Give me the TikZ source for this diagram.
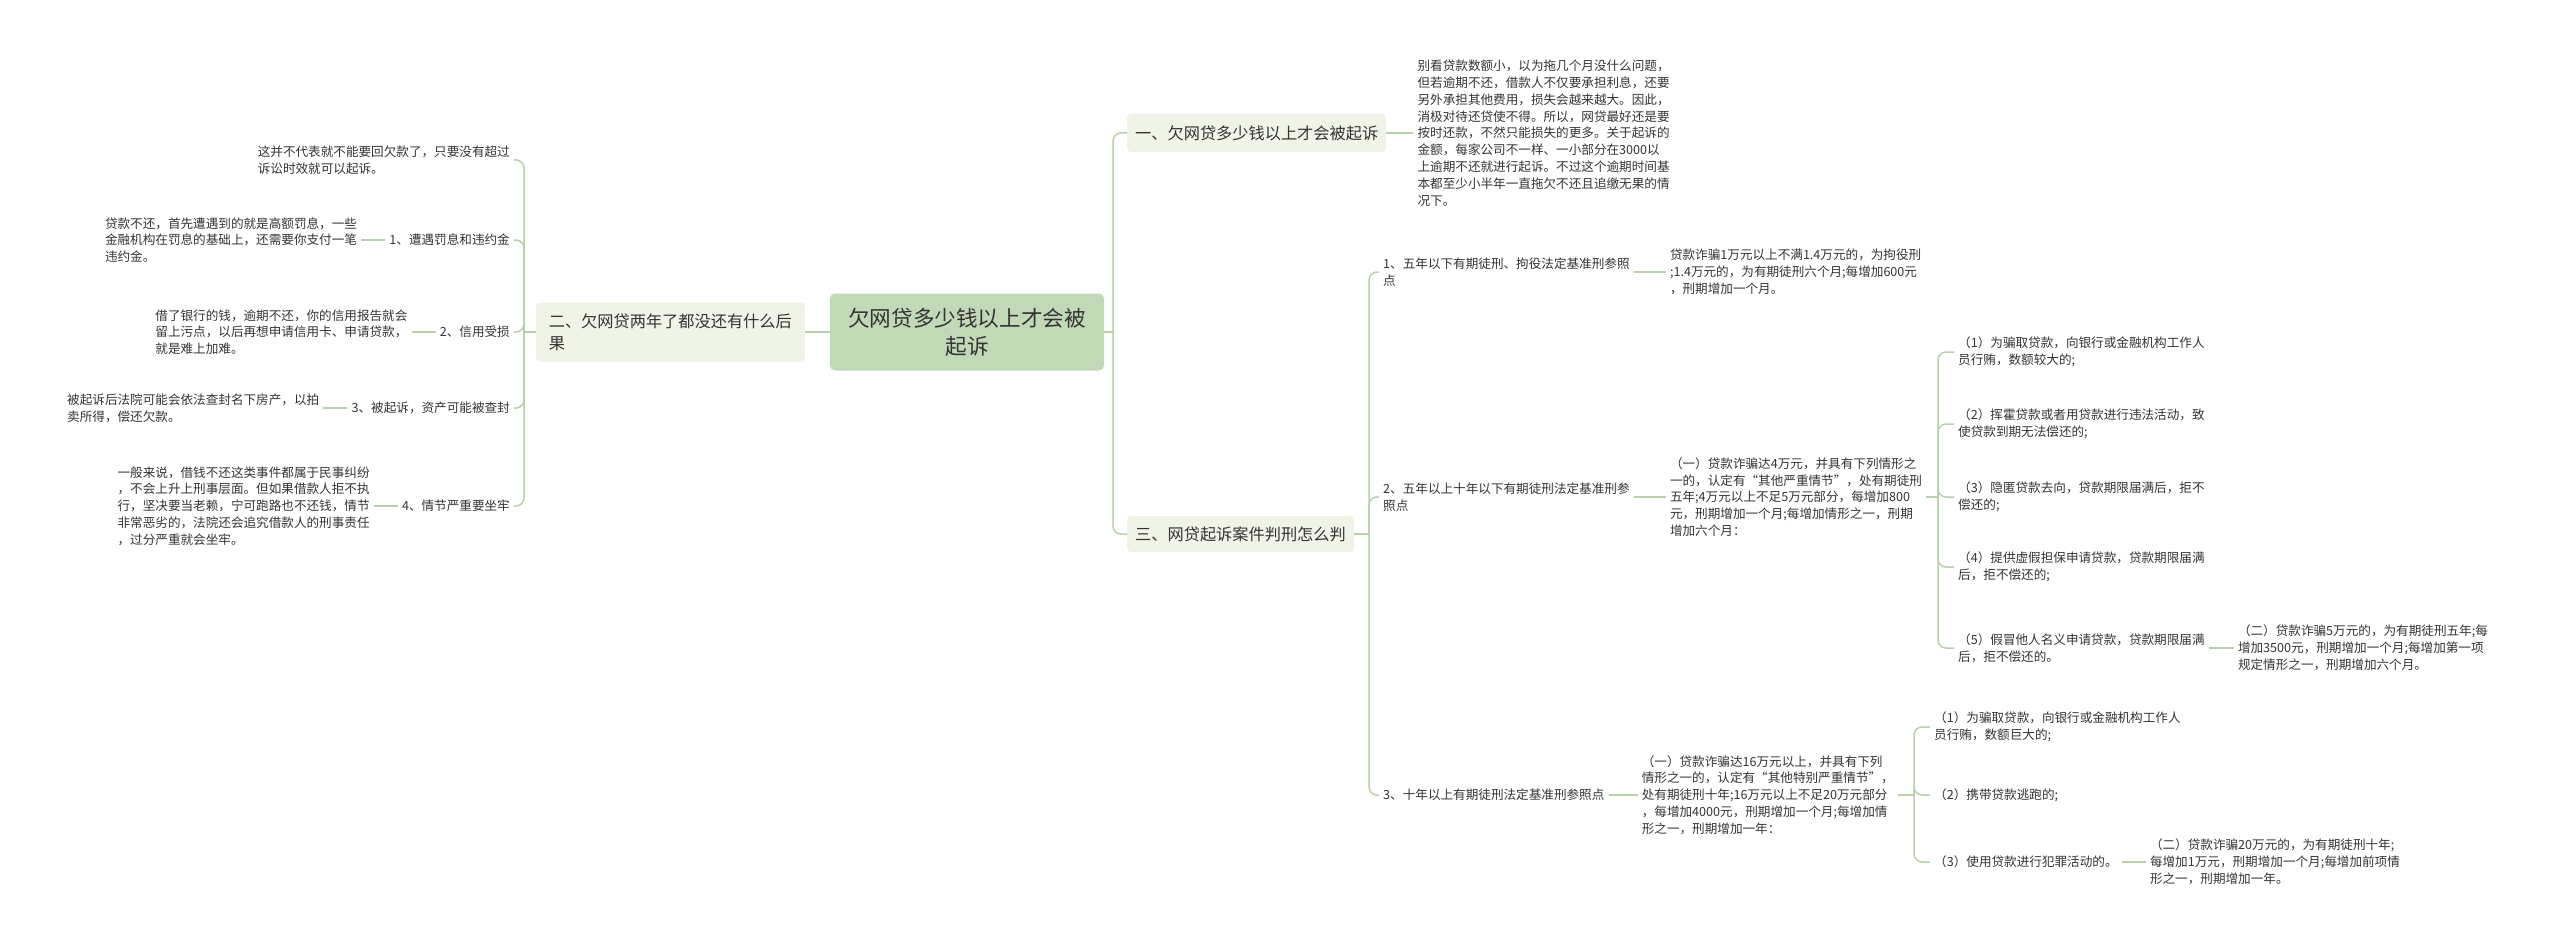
\documentclass[tikz,border=0pt]{standalone}
\usepackage{fontspec}
\setmainfont{Noto Sans CJK SC}
\usepackage{xcolor}
\usepackage{tikz}
\usetikzlibrary{positioning}
\definecolor{rootfill}{HTML}{C2D9B7}
\definecolor{topicfill}{HTML}{EFF4E7}
\definecolor{linkgreen}{HTML}{B9D0AC}
\definecolor{textgray}{HTML}{333333}
\tikzset{
    rootbox/.style={
        fill = rootfill, rounded corners = 5pt,
        minimum width = 274pt, minimum height = 77pt,
        align = center, text = textgray,
        font = \fontsize{21.6pt}{28pt}\selectfont
    },
    topicbox/.style={
        fill = topicfill, rounded corners = 4pt,
        inner xsep = 8pt, minimum height = 38pt,
        align = left, text = textgray,
        font = \fontsize{16.2pt}{21.7pt}\selectfont
    },
    leaftext/.style={
        inner xsep = 4pt, inner ysep = 2pt,
        align = left, text = textgray,
        font = \fontsize{12.6pt}{16.8pt}\selectfont
    },
    linkline/.style = {draw = linkgreen, line width = 1.5pt},
    branchline/.style = {linkline, rounded corners = 8pt}
}
\begin{document}
\begin{tikzpicture}[x=1pt, y=-1pt]
    \useasboundingbox (0,0) rectangle (2560,947);

    % Centre
    \node[rootbox] (root) at (967,332) {欠网贷多少钱以上才会被\\起诉};

    % Topics
    \node[topicbox, anchor=east, inner xsep=13pt, minimum height=59pt] (sec2) at (805,332) {二、欠网贷两年了都没还有什么后\\果};
    \node[topicbox, anchor=west] (sec1) at (1127,133) {一、欠网贷多少钱以上才会被起诉};
    \node[topicbox, anchor=west, minimum height=36pt] (sec3) at (1127,534) {三、网贷起诉案件判刑怎么判};

    % Trunks
    \coordinate (ltrunk) at (524,0);
    \coordinate (rtrunk) at (1113,0);
    \coordinate (lawtrunk) at (1369,0);
    \coordinate (midtrunk) at (1938,0);
    \coordinate (hightrunk) at (1914,0);

    % Left side
    \node[leaftext, anchor=east] (late) at (514,160) {这并不代表就不能要回欠款了，只要没有超过\\诉讼时效就可以起诉。};
    \node[leaftext, anchor=east] (fine) at (514,240) {1、遭遇罚息和违约金};
    \node[leaftext, left=24pt of fine] (fineinfo) {贷款不还，首先遭遇到的就是高额罚息，一些\\金融机构在罚息的基础上，还需要你支付一笔\\违约金。};
    \node[leaftext, anchor=east] (credit) at (514,332) {2、信用受损};
    \node[leaftext, left=24pt of credit] (creditinfo) {借了银行的钱，逾期不还，你的信用报告就会\\留上污点，以后再想申请信用卡、申请贷款，\\就是难上加难。};
    \node[leaftext, anchor=east] (seize) at (514,408) {3、被起诉，资产可能被查封};
    \node[leaftext, left=24pt of seize] (seizeinfo) {被起诉后法院可能会依法查封名下房产，以拍\\卖所得，偿还欠款。};
    \node[leaftext, anchor=east] (jail) at (514,506) {4、情节严重要坐牢};
    \node[leaftext, left=24pt of jail] (jailinfo) {一般来说，借钱不还这类事件都属于民事纠纷\\，不会上升上刑事层面。但如果借款人拒不执\\行，坚决要当老赖，宁可跑路也不还钱，情节\\非常恶劣的，法院还会追究借款人的刑事责任\\，过分严重就会坐牢。};

    % Topic one
    \node[leaftext, right=27pt of sec1] (sec1info) {别看贷款数额小，以为拖几个月没什么问题，\\但若逾期不还，借款人不仅要承担利息，还要\\另外承担其他费用，损失会越来越大。因此，\\消极对待还贷使不得。所以，网贷最好还是要\\按时还款，不然只能损失的更多。关于起诉的\\金额，每家公司不一样、一小部分在3000以\\上逾期不还就进行起诉。不过这个逾期时间基\\本都至少小半年一直拖欠不还且追缴无果的情\\况下。};

    % Topic three
    \node[leaftext, anchor=west] (law1) at (1379,272) {1、五年以下有期徒刑、拘役法定基准刑参照\\点};
    \node[leaftext, right=32pt of law1] (law1info) {贷款诈骗1万元以上不满1.4万元的，为拘役刑\\;1.4万元的，为有期徒刑六个月;每增加600元\\，刑期增加一个月。};
    \node[leaftext, anchor=west] (law2) at (1379,497) {2、五年以上十年以下有期徒刑法定基准刑参\\照点};
    \node[leaftext, right=32pt of law2] (law2info) {（一）贷款诈骗达4万元，并具有下列情形之\\一的，认定有“其他严重情节”，处有期徒刑\\五年;4万元以上不足5万元部分，每增加800\\元，刑期增加一个月;每增加情形之一，刑期\\增加六个月：};
    \node[leaftext, anchor=west] (law3) at (1379,795) {3、十年以上有期徒刑法定基准刑参照点};
    \node[leaftext, right=29pt of law3] (law3info) {（一）贷款诈骗达16万元以上，并具有下列\\情形之一的，认定有“其他特别严重情节”，\\处有期徒刑十年;16万元以上不足20万元部分\\，每增加4000元，刑期增加一个月;每增加情\\形之一，刑期增加一年：};

    % Circumstances, five to ten years
    \node[leaftext, anchor=west] (mida) at (1954,352) {（1）为骗取贷款，向银行或金融机构工作人\\员行贿，数额较大的;};
    \node[leaftext, anchor=west] (midb) at (1954,424) {（2）挥霍贷款或者用贷款进行违法活动，致\\使贷款到期无法偿还的;};
    \node[leaftext, anchor=west] (midc) at (1954,497) {（3）隐匿贷款去向，贷款期限届满后，拒不\\偿还的;};
    \node[leaftext, anchor=west] (midd) at (1954,567) {（4）提供虚假担保申请贷款，贷款期限届满\\后，拒不偿还的;};
    \node[leaftext, anchor=west] (mide) at (1954,648) {（5）假冒他人名义申请贷款，贷款期限届满\\后，拒不偿还的。};
    \node[leaftext, right=25pt of mide] (midmore) {（二）贷款诈骗5万元的，为有期徒刑五年;每\\增加3500元，刑期增加一个月;每增加第一项\\规定情形之一，刑期增加六个月。};

    % Circumstances, over ten years
    \node[leaftext, anchor=west] (higha) at (1930,727) {（1）为骗取贷款，向银行或金融机构工作人\\员行贿，数额巨大的;};
    \node[leaftext, anchor=west] (highb) at (1930,795) {（2）携带贷款逃跑的;};
    \node[leaftext, anchor=west] (highc) at (1930,862) {（3）使用贷款进行犯罪活动的。};
    \node[leaftext, right=24pt of highc] (highmore) {（二）贷款诈骗20万元的，为有期徒刑十年;\\每增加1万元，刑期增加一个月;每增加前项情\\形之一，刑期增加一年。};

    % Lines
    \draw[linkline] (root.west) -- (sec2.east);
    \draw[linkline] (root.east) -- (root.east -| rtrunk);
    \draw[branchline] (root.east -| rtrunk) |- (sec1.west);
    \draw[branchline] (root.east -| rtrunk) |- (sec3.west);

    \draw[linkline] (sec2.west) -- (sec2.west -| ltrunk);
    \draw[branchline] (sec2.west -| ltrunk) |- (late.east);
    \draw[branchline] (sec2.west -| ltrunk) |- (fine.east);
    \draw[branchline] (sec2.west -| ltrunk) |- (credit.east);
    \draw[branchline] (sec2.west -| ltrunk) |- (seize.east);
    \draw[branchline] (sec2.west -| ltrunk) |- (jail.east);
    \draw[linkline] (fine.west) -- (fineinfo.east);
    \draw[linkline] (credit.west) -- (creditinfo.east);
    \draw[linkline] (seize.west) -- (seizeinfo.east);
    \draw[linkline] (jail.west) -- (jailinfo.east);

    \draw[linkline] (sec1.east) -- (sec1info.west);

    \draw[linkline] (sec3.east) -- (sec3.east -| lawtrunk);
    \draw[branchline] (sec3.east -| lawtrunk) |- (law1.west);
    \draw[branchline] (sec3.east -| lawtrunk) |- (law2.west);
    \draw[branchline] (sec3.east -| lawtrunk) |- (law3.west);
    \draw[linkline] (law1.east) -- (law1info.west);
    \draw[linkline] (law2.east) -- (law2info.west);
    \draw[linkline] (law3.east) -- (law3info.west);

    \draw[linkline] (law2info.east) -- (law2info.east -| midtrunk);
    \draw[branchline] (law2info.east -| midtrunk) |- (mida.west);
    \draw[branchline] (law2info.east -| midtrunk) |- (midb.west);
    \draw[branchline] (law2info.east -| midtrunk) |- (midc.west);
    \draw[branchline] (law2info.east -| midtrunk) |- (midd.west);
    \draw[branchline] (law2info.east -| midtrunk) |- (mide.west);
    \draw[linkline] (mide.east) -- (midmore.west);

    \draw[linkline] (law3info.east) -- (law3info.east -| hightrunk);
    \draw[branchline] (law3info.east -| hightrunk) |- (higha.west);
    \draw[branchline] (law3info.east -| hightrunk) |- (highb.west);
    \draw[branchline] (law3info.east -| hightrunk) |- (highc.west);
    \draw[linkline] (highc.east) -- (highmore.west);

\end{tikzpicture}
\end{document}
